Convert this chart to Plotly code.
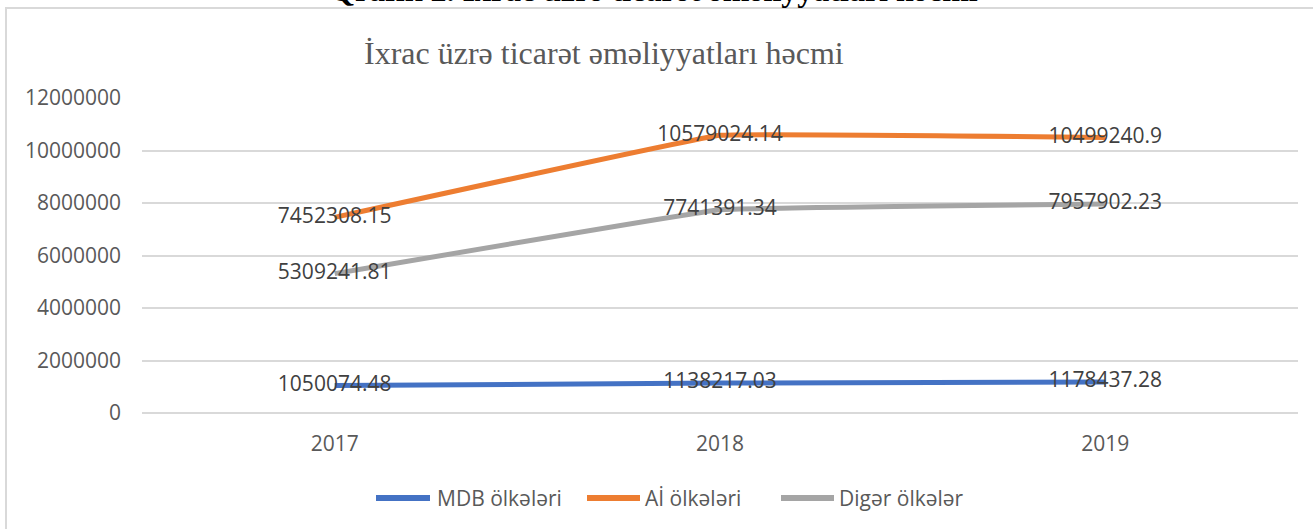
import plotly.graph_objects as go

years = ["2017", "2018", "2019"]
mdb = [1050074.48, 1138217.03, 1178437.28]
ai = [7452308.15, 10579024.14, 10499240.9]
diger = [5309241.81, 7741391.34, 7957902.23]
mdb_labels = ["1050074.48", "1138217.03", "1178437.28"]
ai_labels = ["7452308.15", "10579024.14", "10499240.9"]
diger_labels = ["5309241.81", "7741391.34", "7957902.23"]
y_ticks = [0, 2000000, 4000000, 6000000, 8000000, 10000000, 12000000]

W, H = 1313, 529
L, R, T, B = 142, 15, 98, 116
PW, PH = W - L - R, H - T - B


def px(x):
    return (x - L) / PW


def py(y):
    return 1 - (y - T) / PH


TXT = "#404040"
AX = "#595959"
FONT = "Open Sans"

fig = go.Figure()
series = [
    ("MDB ölkələri", mdb, mdb_labels, "#4472C4"),
    ("Aİ ölkələri", ai, ai_labels, "#ED7D31"),
    ("Digər ölkələr", diger, diger_labels, "#A5A5A5"),
]
xs = list(range(len(years)))
for name, vals, labs, col in series:
    fig.add_trace(go.Scatter(
        x=xs, y=vals, name=name, mode="lines+text",
        line=dict(color=col, width=5, shape="spline", smoothing=0.15),
        text=labs, textposition="middle center",
        textfont=dict(family=FONT, size=21, color=TXT),
        cliponaxis=False, showlegend=False,
    ))

fig.update_layout(
    width=W, height=H,
    margin=dict(l=L, r=R, t=T, b=B, autoexpand=False),
    plot_bgcolor="white", paper_bgcolor="white",
    showlegend=False,
    font=dict(family=FONT, color=AX),
)
fig.update_xaxes(
    range=[-0.5, 2.5], tickmode="array", tickvals=xs, ticktext=years,
    showgrid=False, zeroline=False, showline=False, ticks="",
    tickfont=dict(family=FONT, size=21, color=AX),
    ticklabelstandoff=16, automargin=False,
)
fig.update_yaxes(
    range=[0, 12000000], tickmode="array", tickvals=y_ticks,
    ticktext=[str(v) for v in y_ticks],
    showgrid=True, gridcolor="#D9D9D9", gridwidth=2,
    zeroline=True, zerolinecolor="#D9D9D9", zerolinewidth=2,
    showline=False, ticks="",
    tickfont=dict(family=FONT, size=21, color=AX),
    ticklabelstandoff=20, automargin=False,
)

# chart border
fig.add_shape(type="rect", xref="paper", yref="paper",
              x0=px(6), x1=px(W + 10), y0=py(H + 10), y1=py(8),
              line=dict(color="#D9D9D9", width=2), fillcolor="rgba(0,0,0,0)", layer="below")

# chart title
fig.add_annotation(text="İxrac üzrə ticarət əməliyyatları həcmi",
                   xref="paper", yref="paper", x=px(604), y=py(53),
                   xanchor="center", yanchor="middle", showarrow=False,
                   font=dict(family="Liberation Serif", size=32, color=AX))
# cut-off caption above the chart (only its lower edge is visible, as in the source)
fig.add_annotation(text="<b>Qrafik 2. İxrac üzrə ticarət əməliyyatları həcmi</b>",
                   xref="paper", yref="paper", x=px(654), y=py(10),
                   xanchor="center", yanchor="bottom", showarrow=False,
                   font=dict(family="Liberation Serif", size=32, color="#000000"))

# legend (drawn manually to match the long line keys)
legend_y = 498
legend_items = [(376, 430, 435), (587, 640, 643), (781, 834, 837)]
for (name, _, _, col), (lx0, lx1, tx) in zip(series, legend_items):
    fig.add_shape(type="line", xref="paper", yref="paper",
                  x0=px(lx0), x1=px(lx1), y0=py(legend_y), y1=py(legend_y),
                  line=dict(color=col, width=6))
    fig.add_annotation(text=name, xref="paper", yref="paper",
                       x=px(tx), y=py(legend_y), xanchor="left", yanchor="middle",
                       showarrow=False, font=dict(family=FONT, size=21, color=AX))

fig.write_html("out.html", config={"displayModeBar": False},
               post_script="document.body.style.margin='0';")
